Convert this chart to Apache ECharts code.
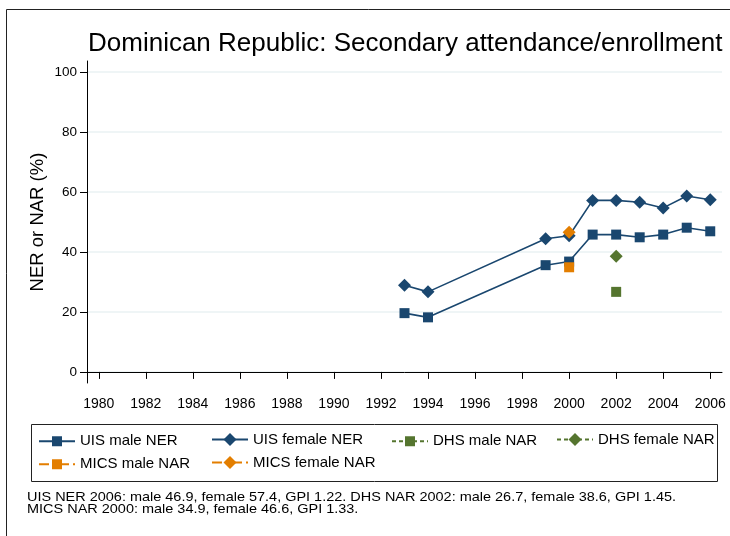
<!DOCTYPE html>
<html>
<head>
<meta charset="utf-8">
<script src="https://cdn.jsdelivr.net/npm/echarts@6/dist/echarts.min.js"></script>
<style>html,body{margin:0;padding:0;background:#fff;}#c{width:730px;height:536px;}</style>
</head>
<body>
<div id="c"></div>
<script>
const years = [1993, 1994, 1999, 2000, 2001, 2002, 2003, 2004, 2005, 2006];
const uisMale = [19.6, 18.2, 35.6, 36.8, 45.8, 45.8, 44.9, 45.8, 48.1, 46.9];
const uisFemale = [28.9, 26.7, 44.4, 45.4, 57.2, 57.2, 56.6, 54.7, 58.7, 57.4];
const dhsYears = [2002];
const dhsMale = [26.7];
const dhsFemale = [38.6];
const micsYears = [2000];
const micsMale = [34.9];
const micsFemale = [46.6];
const xTicks = [1980,1982,1984,1986,1988,1990,1992,1994,1996,1998,2000,2002,2004,2006];
const yTicks = [0, 20, 40, 60, 80, 100];
const titleText = 'Dominican Republic: Secondary attendance/enrollment';
const yName = 'NER or NAR (%)';
const noteText = 'UIS NER 2006: male 46.9, female 57.4, GPI 1.22. DHS NAR 2002: male 26.7, female 38.6, GPI 1.45.\nMICS NAR 2000: male 34.9, female 46.6, GPI 1.33.';

const FONT = '"Liberation Sans", Arial, sans-serif';
const NAVY = '#1a476f', GREEN = '#55752f', ORANGE = '#e37e00';
const pairs = (xs, ys) => xs.map((x, i) => [x, ys[i]]);

const seriesDefs = [
  {name: 'UIS male NER', x: years, y: uisMale, color: NAVY, symbol: 'rect', size: 10, dash: 'solid'},
  {name: 'UIS female NER', x: years, y: uisFemale, color: NAVY, symbol: 'diamond', size: 13, dash: 'solid'},
  {name: 'DHS male NAR', x: dhsYears, y: dhsMale, color: GREEN, symbol: 'rect', size: 10, dash: [4, 3]},
  {name: 'DHS female NAR', x: dhsYears, y: dhsFemale, color: GREEN, symbol: 'diamond', size: 13, dash: [4, 3]},
  {name: 'MICS male NAR', x: micsYears, y: micsMale, color: ORANGE, symbol: 'rect', size: 10, dash: [10, 4, 2, 4]},
  {name: 'MICS female NAR', x: micsYears, y: micsFemale, color: ORANGE, symbol: 'diamond', size: 13, dash: [10, 4, 2, 4]}
];

const legendPos = [
  {left: 38, row: 0}, {left: 211, row: 0}, {left: 391, row: 0}, {left: 556, row: 0},
  {left: 38, row: 1}, {left: 211, row: 1}
];
const rowCenters = [440, 463];

const legends = seriesDefs.map((s, i) => {
  const ih = s.size / 0.8;
  return {
    data: [s.name],
    left: legendPos[i].left,
    top: rowCenters[legendPos[i].row] - ih / 2,
    padding: 0,
    itemWidth: 36,
    itemHeight: ih,
    selectedMode: false,
    textStyle: {fontFamily: FONT, fontSize: 15, color: '#000'}
  };
});

const chart = echarts.init(document.getElementById('c'), null, {renderer: 'canvas'});
chart.setOption({
  animation: false,
  backgroundColor: '#fff',
  title: [
    {text: titleText, left: 88, top: 31, padding: 0,
     textStyle: {fontFamily: FONT, fontSize: 26, fontWeight: 'normal', color: '#000'}}
  ],
  graphic: [
    {type: 'rect', shape: {x: 6.5, y: 9.5, width: 800, height: 600}, style: {fill: null, stroke: '#222', lineWidth: 1}, z: -1},
    {type: 'rect', shape: {x: 31.5, y: 424.5, width: 686, height: 57}, style: {fill: null, stroke: '#222', lineWidth: 1}},
    {type: 'text', x: 27, y: 491, scaleX: 1.113,
     style: {text: noteText, font: '13px ' + FONT, fill: '#000', lineHeight: 12, textVerticalAlign: 'top'}}
  ],
  legend: legends,
  grid: {left: 87, right: 8, top: 61, bottom: 153, containLabel: false},
  xAxis: {
    type: 'value', min: 1979.5, max: 2006.5,
    axisLine: {show: true, lineStyle: {color: '#000', width: 1}},
    axisTick: {show: true, length: 7, customValues: xTicks, lineStyle: {color: '#000'}},
    axisLabel: {customValues: xTicks, margin: 14, formatter: v => String(v), fontFamily: FONT, fontSize: 14, color: '#000'},
    splitLine: {show: false}
  },
  yAxis: {
    type: 'value', min: -3.7, max: 103.7,
    name: yName, nameLocation: 'middle', nameGap: 40, nameMoveOverlap: false,
    nameTextStyle: {fontFamily: FONT, fontSize: 18.5, color: '#000'},
    axisLine: {show: true, lineStyle: {color: '#000', width: 1}},
    axisTick: {show: true, length: 7, customValues: yTicks, lineStyle: {color: '#000'}},
    axisLabel: {customValues: yTicks, margin: 10, fontFamily: FONT, fontSize: 13.5, color: '#000'},
    splitLine: {show: true, lineStyle: {color: '#eaf2f3', width: 1.5}}
  },
  series: seriesDefs.map(s => ({
    name: s.name, type: 'line', data: pairs(s.x, s.y),
    symbol: s.symbol, symbolSize: s.size, showSymbol: true,
    itemStyle: {color: s.color},
    lineStyle: {color: s.color, width: 1.6, type: s.dash},
    emphasis: {disabled: true}
  }))
});
</script>
</body>
</html>
